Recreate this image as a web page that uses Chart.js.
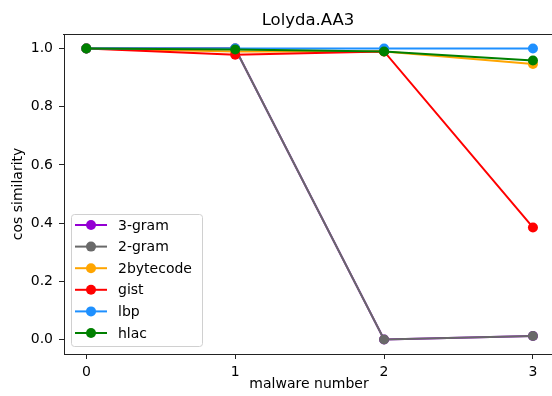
<!DOCTYPE html>
<html>
<head>
<meta charset="utf-8">
<script src="https://cdn.jsdelivr.net/npm/chart.js@4"></script>
<style>
  html, body { margin: 0; padding: 0; background: #fff; }
  #wrap { width: 552px; height: 396px; }
</style>
</head>
<body>
<div id="wrap"><canvas id="myChart" width="552" height="396"></canvas></div>
<script>
// data
const malwareNumbers = [0, 1, 2, 3];
const yTicks = [0, 0.2, 0.4, 0.6, 0.8, 1.0];
const seriesNames = ['3-gram', '2-gram', '2bytecode', 'gist', 'lbp', 'hlac'];
const seriesColors = ['#9400D3', '#696969', '#FFA500', '#FF0000', '#1E90FF', '#008000'];
const gram3 = [1.0, 1.0, 0.0, 0.012];
const gram2 = [1.0, 1.0, 0.0, 0.012];
const bytecode2 = [1.0, 0.99, 0.99, 0.947];
const gist = [1.0, 0.979, 0.99, 0.385];
const lbp = [1.0, 1.0, 1.0, 1.0];
const hlac = [1.0, 0.997, 0.99, 0.959];
const seriesValues = [gram3, gram2, bytecode2, gist, lbp, hlac];

const FONT = 'DejaVu Sans';

// title, axis labels, top spine and legend drawn on the canvas
const decorations = {
  id: 'decorations',
  afterDraw(chart) {
    const ctx = chart.ctx;
    const a = chart.chartArea;
    ctx.save();
    // top spine (right side of the axes is cut off in the picture)
    ctx.fillStyle = '#222';
    ctx.fillRect(Math.round(a.left) - 1, Math.round(a.top), 560, 1);
    // title
    ctx.fillStyle = '#000';
    ctx.textAlign = 'center';
    ctx.textBaseline = 'alphabetic';
    ctx.font = '16.5px ' + FONT;
    ctx.fillText('Lolyda.AA3', 308, 25);
    // axis titles
    ctx.font = '14px ' + FONT;
    ctx.fillText('malware number', 309, 388);
    ctx.translate(22, (a.top + a.bottom) / 2);
    ctx.rotate(-Math.PI / 2);
    ctx.fillText('cos similarity', 0, 0);
    ctx.restore();

    // legend
    ctx.save();
    const lx = 71, ly = 214, lw = 131, lh = 132;
    ctx.fillStyle = 'rgba(255,255,255,0.8)';
    ctx.strokeStyle = '#d0d0d0';
    ctx.lineWidth = 1;
    ctx.beginPath();
    ctx.roundRect(lx + 0.5, ly + 0.5, lw, lh, 3);
    ctx.fill();
    ctx.stroke();
    ctx.font = '14px ' + FONT;
    ctx.textAlign = 'left';
    ctx.textBaseline = 'middle';
    seriesNames.forEach((name, i) => {
      const y = 225 + i * 21.6;
      ctx.strokeStyle = seriesColors[i];
      ctx.lineWidth = 2;
      ctx.beginPath();
      ctx.moveTo(75, y);
      ctx.lineTo(107, y);
      ctx.stroke();
      ctx.fillStyle = seriesColors[i];
      ctx.beginPath();
      ctx.arc(91, y, 5, 0, Math.PI * 2);
      ctx.fill();
      ctx.fillStyle = '#000';
      ctx.fillText(name, 118, y + 1);
    });
    ctx.restore();
  }
};

const chart = document.getElementById('myChart').getContext('2d');
const myChart = new Chart(chart, {
  type: 'line',
  data: {
    datasets: seriesNames.map((name, i) => ({
      label: name,
      data: malwareNumbers.map((x, j) => ({ x: x, y: seriesValues[i][j] })),
      borderColor: seriesColors[i],
      backgroundColor: seriesColors[i],
      borderWidth: 2,
      pointRadius: 5,
      pointBorderWidth: 0,
      tension: 0,
      clip: false,
      order: seriesNames.length - 1 - i,
    })),
  },
  options: {
    responsive: false,
    animation: false,
    layout: { autoPadding: false, padding: { top: 34, right: 0, left: 0, bottom: 0 } },
    plugins: {
      legend: { display: false },
      title: { display: false },
      tooltip: { enabled: false },
    },
    scales: {
      x: {
        type: 'linear',
        min: -0.15,
        max: 3.128,
        afterBuildTicks: (s) => { s.ticks = malwareNumbers.map(v => ({ value: v })); },
        afterFit: (s) => { s.height = 42; },
        grid: { drawOnChartArea: false, drawTicks: true, tickLength: 5, tickColor: '#222' },
        border: { display: true, color: '#222' },
        ticks: { color: '#000', font: { family: FONT, size: 14 }, padding: 5, maxRotation: 0 },
      },
      y: {
        min: -0.05,
        max: 1.05,
        afterBuildTicks: (s) => { s.ticks = yTicks.map(v => ({ value: v })); },
        afterFit: (s) => { s.width = 64; },
        grid: { drawOnChartArea: false, drawTicks: true, tickLength: 5, tickColor: '#222' },
        border: { display: true, color: '#222' },
        ticks: {
          color: '#000',
          font: { family: FONT, size: 14 },
          padding: 6,
          callback: (v) => Number(v).toFixed(1),
        },
      },
    },
  },
  plugins: [decorations],
});
</script>
</body>
</html>
